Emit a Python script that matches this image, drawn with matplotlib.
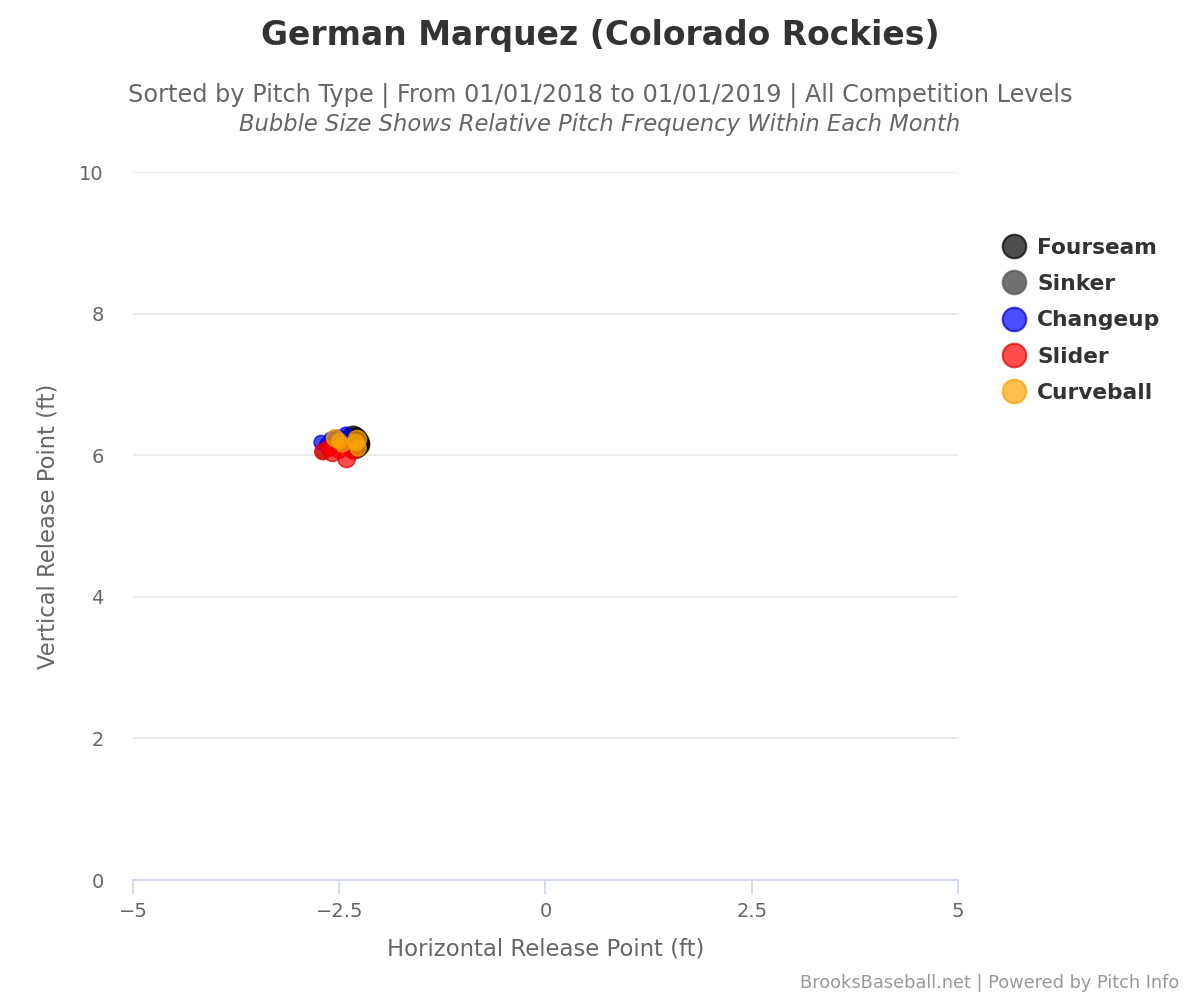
import matplotlib
matplotlib.use("Agg")
import matplotlib.pyplot as plt
from matplotlib.lines import Line2D
import numpy as np

# release points per month, size = share of that month's pitches
pitch_types = ["Fourseam", "Sinker", "Changeup", "Slider", "Curveball"]
face_colors = ["#000000", "#333333", "#0000ff", "#ff0000", "#ffa500"]
edge_colors = ["#000000", "#555555", "#0000cc", "#e00000", "#f0a000"]

fourseam_x = [-2.30, -2.27, -2.33, -2.28, -2.35, -2.30]
fourseam_y = [6.22, 6.15, 6.25, 6.18, 6.20, 6.12]
fourseam_f = [0.50, 0.48, 0.45, 0.52, 0.47, 0.49]

sinker_x = [-2.55, -2.70, -2.46, -2.62]
sinker_y = [6.25, 6.04, 6.18, 6.10]
sinker_f = [0.06, 0.05, 0.04, 0.05]

changeup_x = [-2.72, -2.42, -2.60, -2.50, -2.65]
changeup_y = [6.18, 6.30, 6.22, 6.25, 6.15]
changeup_f = [0.06, 0.05, 0.08, 0.07, 0.06]

slider_x = [-2.70, -2.58, -2.41, -2.33, -2.50, -2.62]
slider_y = [6.05, 6.03, 5.95, 6.06, 6.08, 6.10]
slider_f = [0.12, 0.15, 0.18, 0.14, 0.16, 0.13]

curve_x = [-2.28, -2.27, -2.55, -2.46, -2.50, -2.30]
curve_y = [6.22, 6.10, 6.24, 6.15, 6.20, 6.18]
curve_f = [0.22, 0.12, 0.16, 0.08, 0.10, 0.14]

series = [
    (fourseam_x, fourseam_y, fourseam_f),
    (sinker_x, sinker_y, sinker_f),
    (changeup_x, changeup_y, changeup_f),
    (slider_x, slider_y, slider_f),
    (curve_x, curve_y, curve_f),
]

x_ticks = [-5, -2.5, 0, 2.5, 5]
x_tick_labels = ["\u22125", "\u22122.5", "0", "2.5", "5"]
y_ticks = [0, 2, 4, 6, 8, 10]


def bubble_size(f):
    diam_px = 9 + 20 * np.sqrt(np.array(f))
    return (diam_px * 0.72) ** 2


fig = plt.figure(figsize=(12, 10), dpi=100)
ax = fig.add_axes([0.1108, 0.12, 0.6875, 0.708])

for (xs, ys, fs), fc, ec in zip(series, face_colors, edge_colors):
    ax.scatter(xs, ys, s=bubble_size(fs), c=fc, alpha=0.7,
               edgecolors=ec, linewidths=1.2, zorder=3)

ax.set_xlim(-5, 5)
ax.set_ylim(0, 10)
ax.set_xticks(x_ticks)
ax.set_xticklabels(x_tick_labels)
ax.set_yticks(y_ticks)
ax.grid(axis="y", color="#e6e6e6", linewidth=1.2, zorder=0)
for side in ["left", "right", "top"]:
    ax.spines[side].set_visible(False)
ax.spines["bottom"].set_color("#ccd6eb")
ax.spines["bottom"].set_linewidth(1.2)
ax.tick_params(axis="x", colors="#ccd6eb", length=10, width=1.2, labelcolor="#666666",
               labelsize=14, pad=6)
ax.tick_params(axis="y", length=0, labelcolor="#666666", labelsize=14, pad=21)

ax.set_xlabel("Horizontal Release Point (ft)", fontsize=16.4, color="#666666", labelpad=12)
ax.set_ylabel("Vertical Release Point (ft)", fontsize=16.3, color="#666666", labelpad=14)

fig.text(0.5, 0.965, "German Marquez (Colorado Rockies)", ha="center", va="center",
         fontsize=23.8, fontweight="bold", color="#333333")
fig.text(0.5, 0.904, "Sorted by Pitch Type | From 01/01/2018 to 01/01/2019 | All Competition Levels",
         ha="center", va="center", fontsize=17.3, color="#666666")
fig.text(0.5, 0.875, "Bubble Size Shows Relative Pitch Frequency Within Each Month",
         ha="center", va="center", fontsize=16.3, color="#666666", style="italic")
fig.text(0.983, 0.017, "BrooksBaseball.net | Powered by Pitch Info", ha="right", va="center",
         fontsize=12.8, color="#999999")

handles = [Line2D([], [], marker="o", linestyle="", markersize=17,
                  markerfacecolor=fc, markeredgecolor=ec, alpha=0.7, markeredgewidth=1.5)
           for fc, ec in zip(face_colors, edge_colors)]
leg = fig.legend(handles, pitch_types, loc="upper left", bbox_to_anchor=(0.818, 0.782),
                 frameon=False, prop={"size": 15.7, "weight": "bold"}, labelspacing=0.75,
                 handletextpad=0.45, handlelength=1.2)
for t in leg.get_texts():
    t.set_color("#333333")

fig.savefig("out.png", dpi=100)
